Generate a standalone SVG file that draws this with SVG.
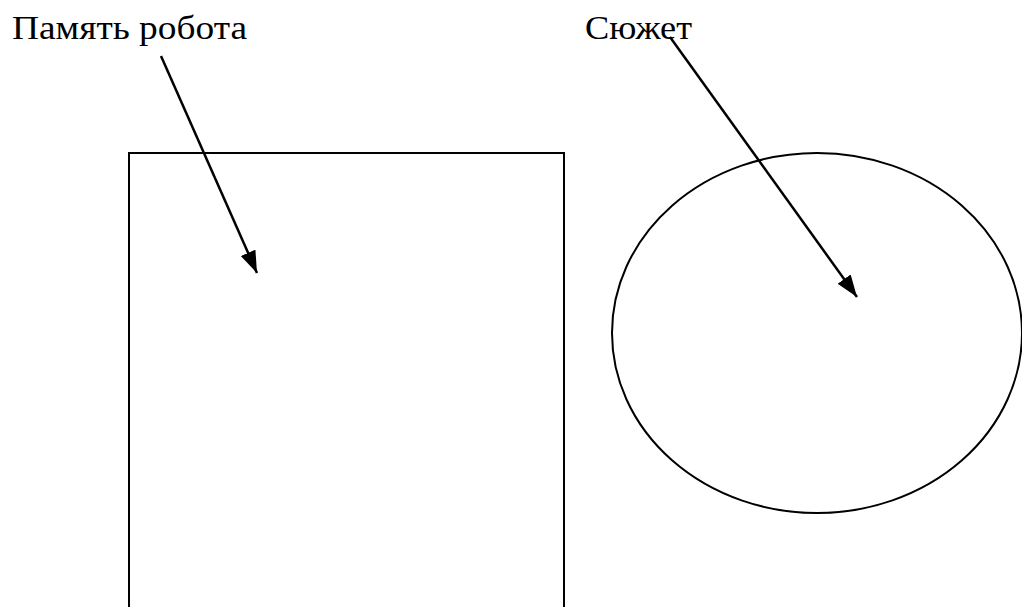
<svg xmlns="http://www.w3.org/2000/svg" width="1022" height="607" viewBox="0 0 1022 607">
<style>
.lbl{font-family:"Liberation Serif","Times New Roman",serif;font-size:34px;fill:#000}
.shape{fill:none;stroke:#000;stroke-width:2}
.conn{stroke:#000;stroke-width:2.5;fill:none}
</style>
<defs>
<marker id="arr" markerUnits="userSpaceOnUse" markerWidth="24" markerHeight="18" refX="22" refY="8" orient="auto">
<path d="M0,0 L22,8 L0,16 z" fill="#000"/>
</marker>
</defs>
<rect width="1022" height="607" fill="#fff"/>
<g id="memory">
<path class="shape" d="M129,620 L129,153 L564,153 L564,620"/>
</g>
<g id="plot">
<ellipse class="shape" cx="817" cy="333" rx="205" ry="180"/>
</g>
<g id="labels">
<text id="label-memory" class="lbl" x="12" y="39" textLength="235" lengthAdjust="spacingAndGlyphs">Память робота</text>
<text id="label-plot" class="lbl" x="585" y="39" textLength="107" lengthAdjust="spacingAndGlyphs">Сюжет</text>
</g>
<g id="connectors">
<line class="conn" x1="161" y1="56" x2="257" y2="273" marker-end="url(#arr)"/>
<line class="conn" x1="670" y1="37" x2="857" y2="297" marker-end="url(#arr)"/>
</g>
</svg>
